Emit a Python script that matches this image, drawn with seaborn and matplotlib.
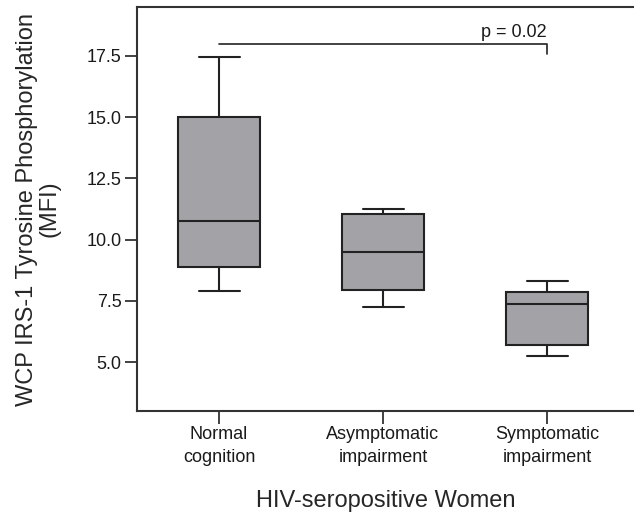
import pandas as pd
import matplotlib
matplotlib.use('Agg')
import matplotlib.pyplot as plt
import seaborn as sns

# --- Data (min, Q1, median, Q3, max per group) ---
groups = ['Normal\ncognition', 'Asymptomatic\nimpairment', 'Symptomatic\nimpairment']
normal_vals = [7.90, 8.87, 10.76, 15.00, 17.47]
asymp_vals = [7.23, 7.94, 9.49, 11.06, 11.24]
symp_vals = [5.23, 5.68, 7.37, 7.85, 8.31]
y_ticks = [5.0, 7.5, 10.0, 12.5, 15.0, 17.5]
p_label = 'p = 0.02'

df = pd.DataFrame({
    'Group': [groups[0]] * len(normal_vals) + [groups[1]] * len(asymp_vals) + [groups[2]] * len(symp_vals),
    'MFI': normal_vals + asymp_vals + symp_vals,
})

sns.set_style('white')
plt.rcParams['font.family'] = ['Liberation Sans', 'DejaVu Sans']
plt.rcParams['text.color'] = '#1a1a1a'

fig = plt.figure(figsize=(6.34, 5.14), dpi=100)
ax = fig.add_axes([137 / 634, 103 / 514, 497 / 634, 404 / 514])

box_col = '#a3a3a7'
line_col = '#222222'
sns.boxplot(
    data=df, x='Group', y='MFI', ax=ax,
    color=box_col, saturation=1, linecolor=line_col, linewidth=1.5,
    width=0.5, whis=(0, 100), showfliers=False,
)

ax.set_xlim(-0.5, -0.5 + 497 / 164)
ax.set_ylim(3.0, 19.5)
ax.set_yticks(y_ticks)
ax.set_yticklabels([f'{v:.1f}' for v in y_ticks])

# significance bracket
ax.plot([0, 2, 2], [18.0, 18.0, 17.57], color=line_col, lw=1.2)
ax.text(2, 18.28, p_label, ha='right', va='baseline', fontsize=13)

for side in ['left', 'bottom', 'top']:
    ax.spines[side].set_visible(True)
    ax.spines[side].set_color('#333333')
    ax.spines[side].set_linewidth(1.5)
ax.spines['right'].set_visible(False)

ax.tick_params(axis='both', direction='out', length=9, width=1.3, color='#333333',
               labelcolor='#1a1a1a', pad=2)
ax.tick_params(axis='y', labelsize=13, left=True)
ax.tick_params(axis='x', labelsize=13, bottom=True)
for lbl in ax.get_xticklabels():
    lbl.set_linespacing(1.45)

ax.set_xlabel('HIV-seropositive Women', fontsize=17, labelpad=17)
ax.set_ylabel('WCP IRS-1 Tyrosine Phosphorylation\n(MFI)', fontsize=17, linespacing=1.0, labelpad=19)

plt.savefig('out.png', dpi=100)
